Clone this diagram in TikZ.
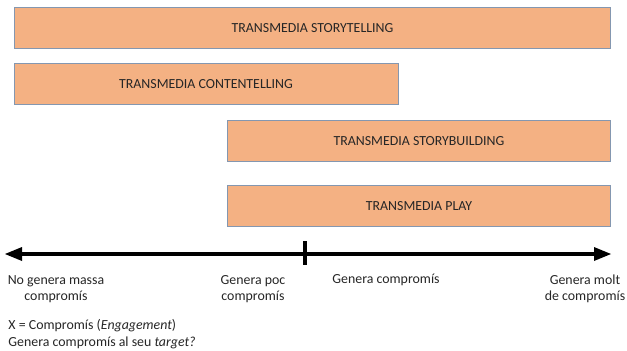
\documentclass[tikz,border=0pt]{standalone}
\usepackage{fontspec}
\setmainfont{Carlito}
\definecolor{boxfill}{RGB}{244,177,131}
\definecolor{boxline}{RGB}{132,151,176}
\tikzset{every picture/.style={line width=0.75pt}}
\tikzset{
  bar/.style={draw=boxline, fill=boxfill, line width=0.75, inner sep=0pt, font=\fontsize{10.4}{12}\selectfont, text=black!85},
  axislabel/.style={inner sep=0.75pt, align=center, font=\fontsize{10.4}{12.2}\selectfont, text=black!85}
}

\begin{document}
\begin{tikzpicture}[x=0.75pt,y=0.75pt,yscale=-1,xscale=1]
	\useasboundingbox (0,0) rectangle (627,350);
	% bars
	\node [bar, minimum width=447pt, minimum height=31pt] (storytelling) at (312.5,28) {TRANSMEDIA STORYTELLING};
	\node [bar, minimum width=288pt, minimum height=31pt] (contentelling) at (206,84) {TRANSMEDIA CONTENTELLING};
	\node [bar, minimum width=287pt, minimum height=31pt] (storybuilding) at (419,141) {TRANSMEDIA STORYBUILDING};
	\node [bar, minimum width=287pt, minimum height=31pt] (play) at (419,206) {TRANSMEDIA PLAY};

	% axis
	\coordinate (axisL) at (5,254);
	\coordinate (axisR) at (611,254);
	\coordinate (tickT) at (305,241);
	\coordinate (tickB) at (305,265);
	\draw [line width=3, shorten <=8pt, shorten >=8pt] (axisL) -- (axisR) ;
	\draw [shift={(axisL)}, rotate = 0] [fill=black][line width=0.08] [draw opacity=0] (17,-7) -- (0,0) -- (17,7) -- cycle ;
	\draw [shift={(axisR)}, rotate = 180] [fill=black][line width=0.08] [draw opacity=0] (17,-7) -- (0,0) -- (17,7) -- cycle ;
	\draw [line width=3] (tickT) -- (tickB) ;

	\node [axislabel, anchor=north] (nomassa) at (56,274) {No genera massa\\compromís};
	\node [axislabel, anchor=north] (poc) at (253,274) {Genera poc\\compromís};
	\node [axislabel, anchor=north] (genera) at (386,273) {Genera compromís};
	\node [axislabel, anchor=north] (molt) at (585,273) {Genera molt\\de compromís};
	\node [axislabel, anchor=north west, align=left, font=\fontsize{10.4}{12.6}\selectfont] (legend) at (7,318) {X = Compromís (\textit{Engagement})\\Genera compromís al seu \textit{target?}};
\end{tikzpicture}
\end{document}
